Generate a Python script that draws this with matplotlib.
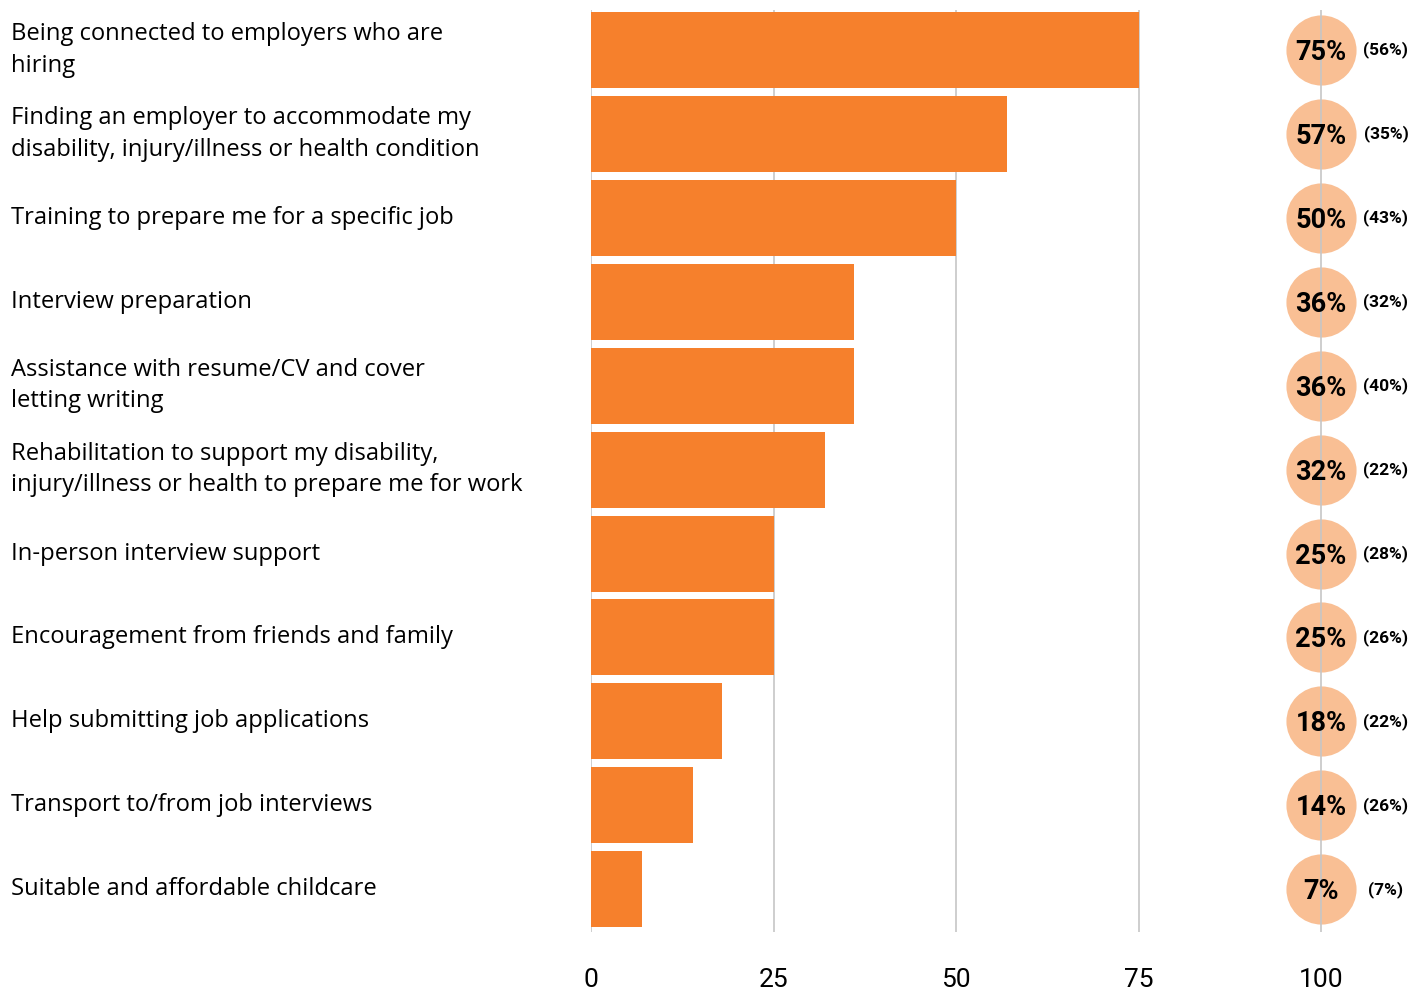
import numpy as np
import matplotlib.pyplot as plt
from matplotlib.transforms import blended_transform_factory

categories = [
    "Being connected to employers who are\nhiring",
    "Finding an employer to accommodate my\ndisability, injury/illness or health condition",
    "Training to prepare me for a specific job",
    "Interview preparation",
    "Assistance with resume/CV and cover\nletting writing",
    "Rehabilitation to support my disability,\ninjury/illness or health to prepare me for work",
    "In-person interview support",
    "Encouragement from friends and family",
    "Help submitting job applications",
    "Transport to/from job interviews",
    "Suitable and affordable childcare",
]
values = [75, 57, 50, 36, 36, 32, 25, 25, 18, 14, 7]
compare = [56, 35, 43, 32, 40, 22, 28, 26, 22, 26, 7]
ticks = [0, 25, 50, 75, 100]

BAR = "#F6802C"
DOT = "#F9BF94"
GRID = "#C6C6C6"

fig = plt.figure(figsize=(14.24, 9.92), dpi=100)
ax = fig.add_axes([591 / 1424, 60 / 992, 1 - 591 / 1424, 922 / 992])

y = np.arange(len(values))
ax.set_xlim(0, (1424 - 591) / 7.3)
ax.set_ylim(10.51, -0.477)

for t in ticks:
    ax.axvline(t, color=GRID, lw=1.2, zorder=2)

ax.barh(y, values, height=0.905, color=BAR, zorder=3)

# circles behind the gridline at 100 with the headline share
ax.scatter([100] * len(y), y, s=2550, color=DOT, lw=0, zorder=1)
for yi, v, c in zip(y, values, compare):
    ax.text(100, yi + 0.03, f"{v}%", ha="center", va="center", fontsize=19.5,
            fontweight="bold", family="Roboto", zorder=4)
    ax.text(108.9, yi, f"({c}%)", ha="center", va="center", fontsize=12.5,
            fontweight="bold", family="Roboto", zorder=4)

# category labels: x in figure coords, y in data coords
lab_tr = blended_transform_factory(fig.transFigure, ax.transData)
for yi, lab in zip(y, categories):
    fig.text(11 / 1424, yi, lab, transform=lab_tr, ha="left", va="center",
             fontsize=17.1, family="Open Sans", linespacing=1.4)

ax.set_xticks(ticks)
ax.set_xticklabels([str(t) for t in ticks], fontsize=19, family="Roboto")
ax.tick_params(axis="x", length=0, pad=26)
ax.set_yticks([])
for s in ax.spines.values():
    s.set_visible(False)

fig.savefig("out.png", dpi=100)
